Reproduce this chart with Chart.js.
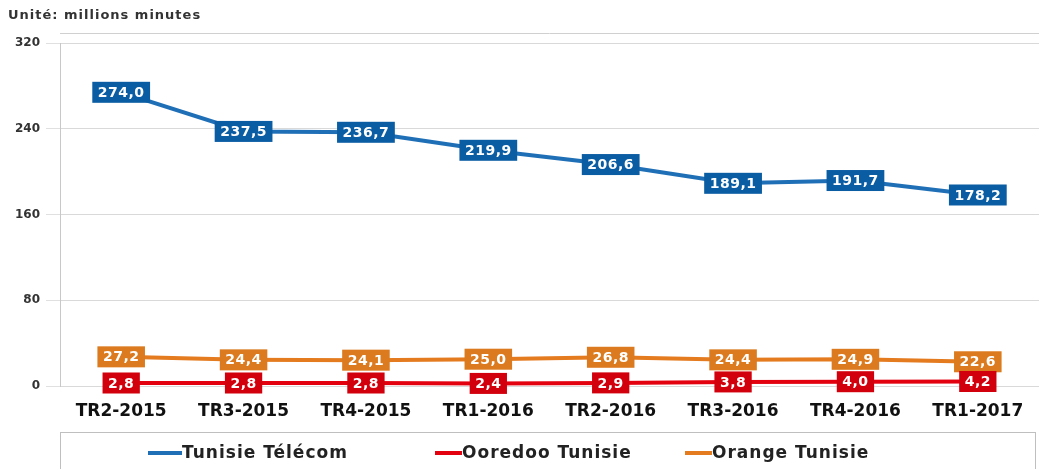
<!DOCTYPE html>
<html>
<head>
<meta charset="utf-8">
<script src="https://cdn.jsdelivr.net/npm/chart.js@4/dist/chart.umd.min.js"></script>
<style>
  html, body { margin: 0; padding: 0; background: #ffffff; }
  #wrap { width: 1039px; height: 469px; position: relative; }
</style>
</head>
<body>
<div id="wrap"><canvas id="c" width="1039" height="469"></canvas></div>
<script>
const categories = ["TR2-2015", "TR3-2015", "TR4-2015", "TR1-2016", "TR2-2016", "TR3-2016", "TR4-2016", "TR1-2017"];
const tunisieTelecom = [274.0, 237.5, 236.7, 219.9, 206.6, 189.1, 191.7, 178.2];
const ooredooTunisie = [2.8, 2.8, 2.8, 2.4, 2.9, 3.8, 4.0, 4.2];
const orangeTunisie = [27.2, 24.4, 24.1, 25.0, 26.8, 24.4, 24.9, 22.6];
const yTicks = [0, 80, 160, 240, 320];
const unitTitle = "Unité: millions minutes";

const FONT = "'DejaVu Sans', Verdana, sans-serif";

const labelPlugin = {
  id: 'valueLabels',
  afterDatasetsDraw(chart) {
    const ctx = chart.ctx;
    ctx.save();
    ctx.font = "bold 14px " + FONT;
    ctx.letterSpacing = '0.5px';
    ctx.textAlign = 'center';
    ctx.textBaseline = 'middle';
    [2, 1, 0].forEach(di => {
      const ds = chart.data.datasets[di];
      const meta = chart.getDatasetMeta(di);
      meta.data.forEach((pt, i) => {
        const txt = ds.data[i].toFixed(1).replace('.', ',');
        const w = ctx.measureText(txt).width + 11;
        const h = 21;
        ctx.fillStyle = ds.labelBg;
        ctx.fillRect(pt.x - w / 2, pt.y - h / 2, w, h);
        ctx.fillStyle = '#ffffff';
        ctx.fillText(txt, pt.x, pt.y + 1);
      });
    });
    ctx.letterSpacing = '0px';
    ctx.restore();
  }
};

const decoPlugin = {
  id: 'deco',
  beforeDraw(chart) {
    const ctx = chart.ctx;
    ctx.save();
    ctx.fillStyle = '#ffffff';
    ctx.fillRect(0, 0, chart.width, chart.height);
    ctx.font = "bold 13px " + FONT;
    ctx.letterSpacing = '1px';
    ctx.fillStyle = '#333333';
    ctx.textAlign = 'left';
    ctx.textBaseline = 'middle';
    ctx.fillText(unitTitle, 8, 16);
    ctx.letterSpacing = '0px';
    ctx.strokeStyle = '#d0d0d0';
    ctx.lineWidth = 1;
    ctx.beginPath();
    ctx.moveTo(chart.chartArea.left, 33.5);
    ctx.lineTo(chart.width, 33.5);
    ctx.stroke();
    ctx.restore();
  },
  afterDraw(chart) {
    const ctx = chart.ctx;
    ctx.save();
    ctx.strokeStyle = '#bfbfbf';
    ctx.lineWidth = 1;
    ctx.strokeRect(60.5, 432.5, 975, 50);
    const items = [
      { x1: 148, x2: 182 },
      { x1: 435, x2: 462 },
      { x1: 685, x2: 712 }
    ];
    ctx.font = "bold 17px " + FONT;
    ctx.letterSpacing = '1px';
    ctx.textAlign = 'left';
    ctx.textBaseline = 'middle';
    chart.data.datasets.forEach((ds, i) => {
      const it = items[i];
      ctx.strokeStyle = ds.borderColor;
      ctx.lineWidth = 4;
      ctx.beginPath();
      ctx.moveTo(it.x1, 453);
      ctx.lineTo(it.x2, 453);
      ctx.stroke();
      ctx.fillStyle = '#222222';
      ctx.fillText(ds.label, it.x2, 454);
    });
    ctx.letterSpacing = '0px';
    ctx.restore();
  }
};

new Chart(document.getElementById('c'), {
  type: 'line',
  data: {
    labels: categories,
    datasets: [
      { label: 'Tunisie Télécom', data: tunisieTelecom, borderColor: '#1F6FB7', labelBg: '#0B5DA3', borderWidth: 4, pointRadius: 0, tension: 0 },
      { label: 'Ooredoo Tunisie', data: ooredooTunisie, borderColor: '#E3000F', labelBg: '#D2000C', borderWidth: 4, pointRadius: 0, tension: 0 },
      { label: 'Orange Tunisie', data: orangeTunisie, borderColor: '#E47B1F', labelBg: '#DB7A1E', borderWidth: 4, pointRadius: 0, tension: 0 }
    ]
  },
  options: {
    responsive: false,
    devicePixelRatio: 1,
    animation: false,
    layout: { padding: { top: 43, right: 0, left: 0, bottom: 0 } },
    plugins: { legend: { display: false }, tooltip: { enabled: false } },
    scales: {
      x: {
        offset: true,
        grid: { display: false, drawTicks: false },
        border: { display: false },
        ticks: { padding: 15, color: '#111111', font: { family: FONT, size: 17, weight: 'bold' }, maxRotation: 0, autoSkip: false },
        afterFit(scale) { scale.height = 83; }
      },
      y: {
        min: 0, max: 320,
        afterBuildTicks(scale) { scale.ticks = yTicks.map(v => ({ value: v })); },
        grid: { color: '#d9d9d9', lineWidth: 1, tickLength: 14, tickColor: '#e0e0e0' },
        border: { display: true, color: '#c8c8c8', width: 1 },
        ticks: { padding: 6, color: '#333333', font: { family: FONT, size: 12, weight: 'bold' } },
        afterFit(scale) { scale.width = 60; }
      }
    }
  },
  plugins: [decoPlugin, labelPlugin]
});
</script>
</body>
</html>
